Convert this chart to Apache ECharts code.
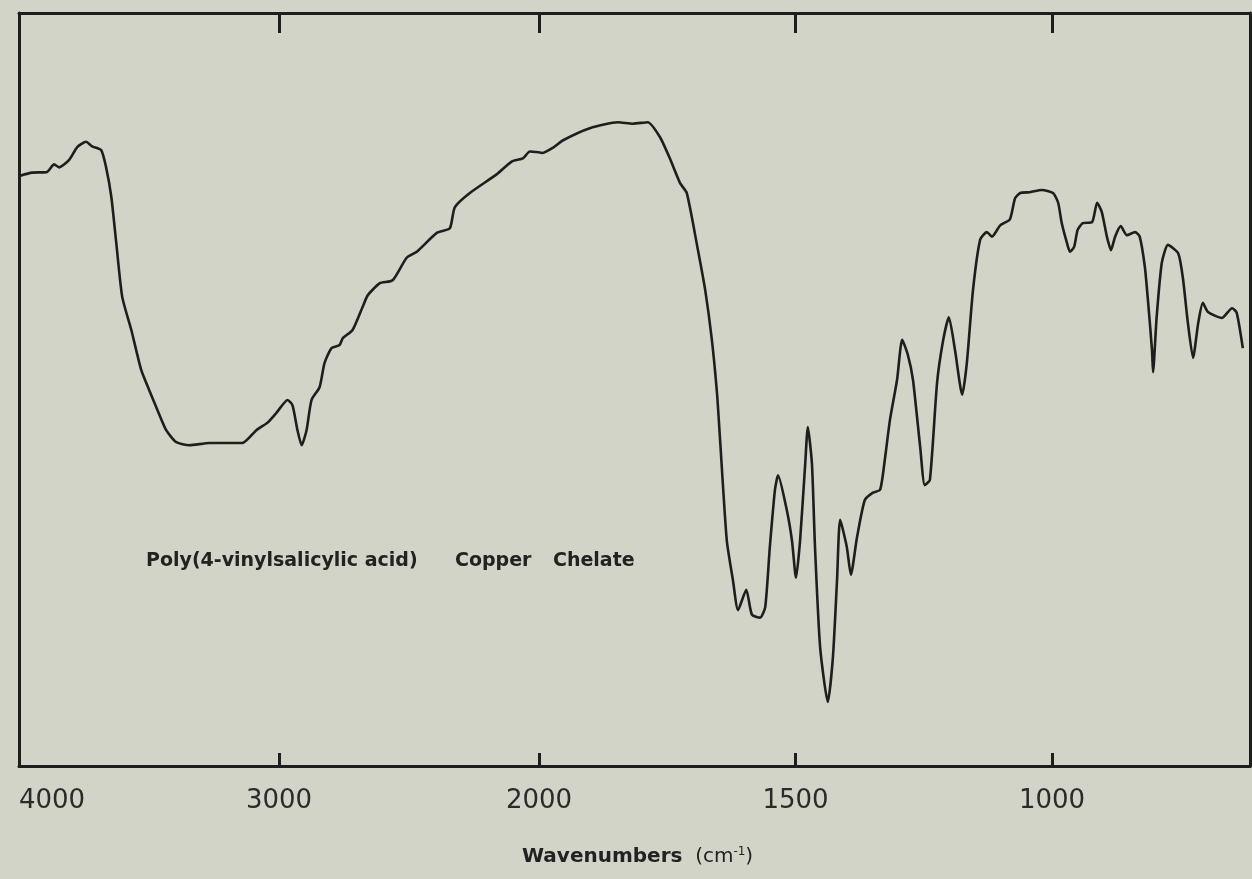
<!DOCTYPE html>
<html>
<head>
<meta charset="utf-8">
<title>Poly(4-vinylsalicylic acid) Copper Chelate — IR spectrum</title>
<script src="https://cdn.jsdelivr.net/npm/echarts@6/dist/echarts.min.js"></script>
<style>
  html, body { margin: 0; padding: 0; background: #d3d4c8; }
  #chart { width: 1252px; height: 879px; }
</style>
</head>
<body>
<div id="chart"></div>
<script>
// IR spectrum, % transmittance vs wavenumber.
// The instrument records 4000-2000 cm-1 at half the scale of 2000-600 cm-1,
// so each range gets its own grid and linear axis.

// 4000-2000 cm-1 range
const wavenumbersHigh = [
  3995, 3950, 3892, 3865, 3846, 3807, 3776, 3742, 3719, 3684, 3665, 3645, 3626, 3603,
  3568, 3530, 3499, 3468, 3434, 3395, 3345, 3268, 3141, 3087, 3044, 3010, 2967, 2948,
  2929, 2913, 2894, 2875, 2844, 2825, 2798, 2767, 2755, 2717, 2678, 2659, 2613, 2563,
  2509, 2470, 2393, 2343, 2324, 2266, 2162, 2104, 2062, 2035, 2000
];
const transmittanceHigh = [
  78.4, 78.8, 78.9, 79.9, 79.5, 80.5, 82.2, 82.9, 82.3, 81.8, 79.5, 75.6, 69.5, 62.3,
  57.9, 52.6, 49.9, 47.3, 44.6, 43.0, 42.6, 42.9, 42.9, 44.6, 45.6, 46.9, 48.6, 47.9,
  44.6, 42.6, 44.6, 48.6, 50.3, 53.5, 55.5, 55.9, 56.8, 57.9, 61.0, 62.5, 64.1, 64.5,
  67.5, 68.3, 70.8, 71.4, 74.2, 76.1, 78.6, 80.3, 80.7, 81.6, 81.5
];

// 2000-614 cm-1 range
const wavenumbersLow = [
  2000, 1994, 1973, 1953, 1901, 1846, 1817, 1788, 1764, 1745, 1725, 1712, 1692, 1676,
  1663, 1653, 1647, 1634, 1622, 1612, 1596, 1585, 1569, 1559, 1550, 1540, 1534, 1517,
  1507, 1499, 1491, 1481, 1476, 1468, 1462, 1452, 1437, 1427, 1419, 1413, 1400, 1392,
  1380, 1365, 1349, 1335, 1326, 1316, 1302, 1292, 1281, 1271, 1257, 1248, 1238, 1224,
  1212, 1201, 1189, 1175, 1166, 1154, 1140, 1127, 1117, 1101, 1082, 1072, 1062, 1043,
  1020, 998, 988, 981, 971, 965, 957, 950, 940, 922, 912, 903, 893, 885,
  877, 866, 854, 838, 829, 819, 813, 805, 803, 796, 786, 774, 754, 745,
  735, 725, 715, 706, 696, 669, 649, 640, 628
];
const transmittanceLow = [
  81.5, 81.4, 82.1, 83.1, 84.7, 85.5, 85.3, 85.5, 83.5, 80.7, 77.4, 76.1, 69.2, 63.2,
  56.6, 49.5, 43.3, 30.0, 24.7, 20.7, 23.4, 20.1, 19.7, 21.1, 29.1, 36.7, 38.6, 34.0,
  30.0, 25.0, 30.0, 40.2, 45.0, 40.2, 29.1, 15.8, 8.5, 14.5, 24.7, 32.7, 29.1, 25.4,
  30.4, 35.3, 36.3, 36.7, 40.6, 45.9, 51.3, 56.6, 54.6, 51.3, 42.4, 37.3, 38.0, 50.9,
  56.6, 59.6, 55.2, 49.3, 53.5, 63.2, 69.9, 70.9, 70.3, 71.8, 72.6, 75.4, 76.1, 76.2,
  76.5, 76.1, 74.8, 72.1, 69.5, 68.3, 68.9, 71.2, 72.1, 72.2, 74.8, 73.6, 70.3, 68.5,
  70.3, 71.7, 70.5, 70.9, 70.3, 66.3, 61.9, 55.2, 52.3, 59.6, 66.8, 69.2, 68.1, 64.9,
  58.8, 54.2, 58.8, 61.5, 60.3, 59.5, 60.8, 60.2, 55.5
];

// Axis ranges and tick marks
const rangeHigh = [2000, 4000];
const rangeLow = [614, 2000];
const ticksHigh = [3000, 2000];
const ticksLow = [1500, 1000];
const labelsHigh = [4000, 3000, 2000];
const labelsLow = [1500, 1000];

const sampleName = ['Poly(4-vinylsalicylic acid)', 'Copper', 'Chelate'];
const axisTitle = 'Wavenumbers';

const ink = '#1e1e1e';
const frame = { show: true, lineStyle: { color: ink, width: 3 } };
const tickFont = { color: '#2b2b2b', fontSize: 26, fontFamily: 'DejaVu Sans' };

function pairs(xs, ys) { return xs.map((x, i) => [x, ys[i]]); }

function bottomAxis(gridIndex, range, ticks, labels) {
  return {
    type: 'value', gridIndex, position: 'bottom', inverse: true,
    min: range[0], max: range[1],
    axisLine: frame,
    axisTick: { show: true, inside: true, length: 13, customValues: ticks,
                lineStyle: { color: ink, width: 3 } },
    axisLabel: Object.assign({
      show: true, margin: 22, customValues: labels,
      // the corner label (4000) sits inside the page, to the right of its tick
      formatter: v => (v === 4000 ? '{edge|' + v + '}' : String(v)),
      rich: { edge: Object.assign({ padding: [0, 0, 0, 66] }, tickFont) }
    }, tickFont),
    splitLine: { show: false }
  };
}
function topAxis(gridIndex, range, ticks) {
  return {
    type: 'value', gridIndex, position: 'top', inverse: true,
    min: range[0], max: range[1],
    axisLine: frame,
    axisTick: { show: true, inside: true, length: 20, customValues: ticks,
                lineStyle: { color: ink, width: 3 } },
    axisLabel: { show: false },
    splitLine: { show: false }
  };
}
function transmittanceAxis(gridIndex, position) {
  return {
    type: 'value', gridIndex, position, min: 0, max: 100,
    axisLine: frame, axisTick: { show: false }, axisLabel: { show: false },
    splitLine: { show: false }
  };
}

const lineStyle = { color: ink, width: 2.6 };
const noteFont = 'bold 19px "DejaVu Sans", sans-serif';

const option = {
  backgroundColor: '#d3d4c8',
  animation: false,
  grid: [
    { left: 19, top: 13, width: 520, height: 753, containLabel: false, outerBoundsMode: 'none' },
    { left: 539, top: 13, width: 711, height: 753, containLabel: false, outerBoundsMode: 'none' }
  ],
  xAxis: [
    bottomAxis(0, rangeHigh, ticksHigh, labelsHigh),
    bottomAxis(1, rangeLow, ticksLow, labelsLow),
    topAxis(0, rangeHigh, ticksHigh),
    topAxis(1, rangeLow, ticksLow)
  ],
  yAxis: [
    transmittanceAxis(0, 'left'),
    transmittanceAxis(1, 'right')
  ],
  series: [
    { type: 'line', xAxisIndex: 0, yAxisIndex: 0, data: pairs(wavenumbersHigh, transmittanceHigh),
      showSymbol: false, smooth: 0.2, lineStyle, silent: true },
    { type: 'line', xAxisIndex: 1, yAxisIndex: 1, data: pairs(wavenumbersLow, transmittanceLow),
      showSymbol: false, smooth: 0.2, lineStyle, silent: true }
  ],
  graphic: [
    { type: 'text', left: 146, top: 552, style: { text: sampleName[0], fill: '#222', font: noteFont } },
    { type: 'text', left: 455, top: 552, style: { text: sampleName[1], fill: '#222', font: noteFont } },
    { type: 'text', left: 553, top: 552, style: { text: sampleName[2], fill: '#222', font: noteFont } },
    {
      type: 'text', left: 522, top: 846,
      style: {
        text: '{t|' + axisTitle + '}{g|  (cm}{s|-1}{g|)}',
        rich: {
          t: { fill: '#222', font: 'bold 20px "DejaVu Sans", sans-serif' },
          g: { fill: '#222', font: '20px "DejaVu Sans", sans-serif' },
          s: { fill: '#222', font: '12px "DejaVu Sans", sans-serif', verticalAlign: 'top', padding: [0, 0, 10, 0] }
        }
      }
    }
  ]
};

const chart = echarts.init(document.getElementById('chart'), null, { renderer: 'canvas' });
chart.setOption(option);
</script>
</body>
</html>
